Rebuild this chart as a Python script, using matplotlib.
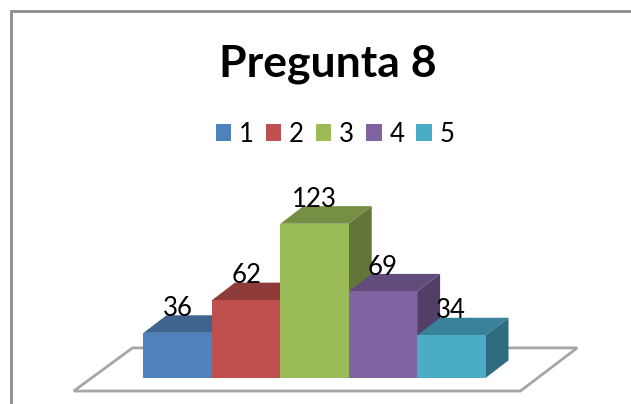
import matplotlib
matplotlib.use('Agg')
import matplotlib.pyplot as plt
from matplotlib.patches import Polygon, Rectangle

categories = ['1', '2', '3', '4', '5']
values = [36, 62, 123, 69, 34]
front_colors = ['#4f81bd', '#c0504d', '#9bbb59', '#8064a2', '#4bacc6']
top_colors = ['#3f648f', '#8f3b39', '#778f45', '#624c7c', '#39839a']
side_colors = ['#355475', '#763130', '#637639', '#513f66', '#2f6c7f']

W, H = 631, 404
PX_X = 68.4    # pixels per category
PX_Y = 1.254   # pixels per answer
LEFT = 143.5
BASE = 378
DEPTH_X = 23 / PX_X
DEPTH_Y = 17.6 / PX_Y

plt.rcParams['font.family'] = ['Lato', 'DejaVu Sans']

fig = plt.figure(figsize=(W / 100, H / 100), dpi=100)
ax = fig.add_axes([0, 0, 1, 1])
ax.set_xlim(-LEFT / PX_X, (W - LEFT) / PX_X)
ax.set_ylim(-(H - BASE) / PX_Y, BASE / PX_Y)
ax.axis('off')

# outer chart frame, runs off the image at bottom and right
fig.add_artist(Rectangle((10.7 / W, -0.05), (W - 10.7 + 10) / W, 1.05 - 10.8 / H,
                         transform=fig.transFigure, fill=False,
                         edgecolor='#8c8c8c', linewidth=2))

# floor of the 3d box
floor = [(-1.02, -10.4), (5.51, -10.4), (6.34, 24), (-0.16, 24)]
ax.add_patch(Polygon(floor, closed=True, facecolor='white', edgecolor='#a6a6a6',
                     linewidth=2, zorder=1))

for i, v in enumerate(values):
    z = 2 + i
    ax.add_patch(Rectangle((i, 0), 1, v, facecolor=front_colors[i],
                           edgecolor='none', zorder=z + 0.2))
    ax.add_patch(Polygon([(i, v), (i + 1, v), (i + 1 + DEPTH_X, v + DEPTH_Y), (i + DEPTH_X, v + DEPTH_Y)],
                         closed=True, facecolor=top_colors[i], edgecolor='none', zorder=z))
    ax.add_patch(Polygon([(i + 1, 0), (i + 1 + DEPTH_X, DEPTH_Y), (i + 1 + DEPTH_X, v + DEPTH_Y), (i + 1, v)],
                         closed=True, facecolor=side_colors[i], edgecolor='none', zorder=z))
    ax.text(i + 0.5, v + DEPTH_Y - 0.5, str(v), ha='center', va='baseline',
            fontsize=18.5, color='black', zorder=20)

fig.text(328 / W, 1 - 76 / H, 'Pregunta 8', ha='center', va='baseline',
         fontsize=32, fontweight='bold', color='black')

handles = [Rectangle((0, 0), 1, 1, facecolor=c, edgecolor='none') for c in front_colors]
fig.legend(handles, categories, loc='center', bbox_to_anchor=(335 / W, 1 - 134 / H),
           ncol=5, frameon=False, fontsize=18.5, handlelength=0.6, handleheight=0.6,
           handletextpad=0.3, columnspacing=0.47, borderpad=0, borderaxespad=0)

fig.savefig('out.png', dpi=100)
